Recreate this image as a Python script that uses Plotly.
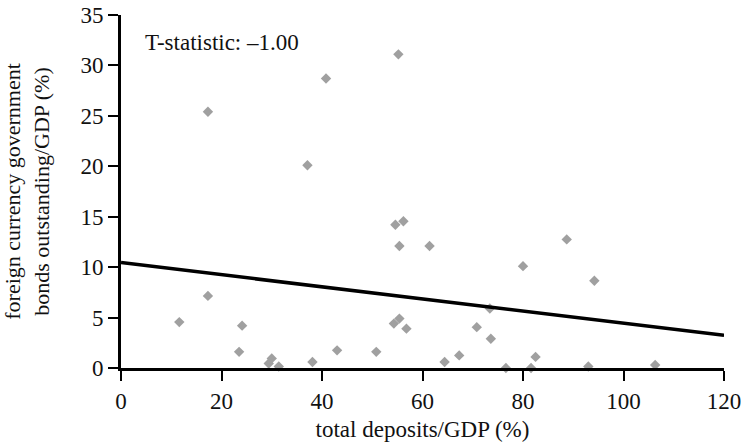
import plotly.graph_objects as go

# Data
deposits = [17.3, 40.8, 37.1, 55.2, 11.6, 17.3, 24.1, 23.5, 30.0, 29.4, 31.4, 38.1, 43.0,
            50.8, 54.6, 56.2, 55.4, 61.4, 88.7, 80.0, 94.2, 73.4, 54.3, 55.4, 56.8, 70.8,
            73.6, 64.4, 67.3, 82.5, 76.6, 81.6, 93.0, 106.3]
bonds = [25.4, 28.7, 20.1, 31.1, 4.55, 7.15, 4.2, 1.6, 0.95, 0.45, 0.15, 0.6, 1.75,
         1.6, 14.2, 14.55, 12.1, 12.1, 12.75, 10.1, 8.65, 5.9, 4.4, 4.9, 3.9, 4.05,
         2.9, 0.6, 1.25, 1.1, 0.0, 0.0, 0.15, 0.3]
fit_x = [0, 120]
fit_y = [10.45, 3.25]
x_ticks = [0, 20, 40, 60, 80, 100, 120]
y_ticks = [0, 5, 10, 15, 20, 25, 30, 35]
annotation_text = "T-statistic: \u20131.00"

FONT = "Liberation Serif"

fig = go.Figure()
fig.add_trace(go.Scatter(x=deposits, y=bonds, mode="markers",
                         marker=dict(symbol="diamond", size=8, color="#a0a0a0"),
                         showlegend=False, cliponaxis=False))
fig.add_trace(go.Scatter(x=fit_x, y=fit_y, mode="lines",
                         line=dict(color="black", width=3.5),
                         showlegend=False))

fig.update_layout(
    width=744, height=442,
    margin=dict(l=121, r=20, t=15, b=74),
    plot_bgcolor="white", paper_bgcolor="white",
    font=dict(family=FONT, size=23, color="#111111"),
    xaxis=dict(range=[0, 120], tickvals=x_ticks, showgrid=False, zeroline=False,
               automargin=False,
               showline=True, linecolor="black", linewidth=3,
               ticks="outside", ticklen=10, tickwidth=1.5, tickcolor="black",
               tickfont=dict(size=23),
               title=dict(text="total deposits/GDP (%)", font=dict(size=23), standoff=10)),
    yaxis=dict(range=[0, 35], tickvals=y_ticks, showgrid=False, zeroline=False,
               automargin=False,
               showline=True, linecolor="black", linewidth=3,
               ticks="outside", ticklen=10, tickwidth=1.5, tickcolor="black",
               tickfont=dict(size=23),
               title=dict(text="foreign currency government<br>bonds outstanding/GDP (%)",
                          font=dict(size=22), standoff=29)),
    annotations=[dict(x=0.037, y=0.923, xref="paper", yref="paper", text=annotation_text,
                      showarrow=False, xanchor="left", yanchor="middle",
                      font=dict(size=23))],
)

fig.write_html("out.html", config={"displayModeBar": False},
               post_script="document.body.style.margin='0';document.body.style.padding='0';")
